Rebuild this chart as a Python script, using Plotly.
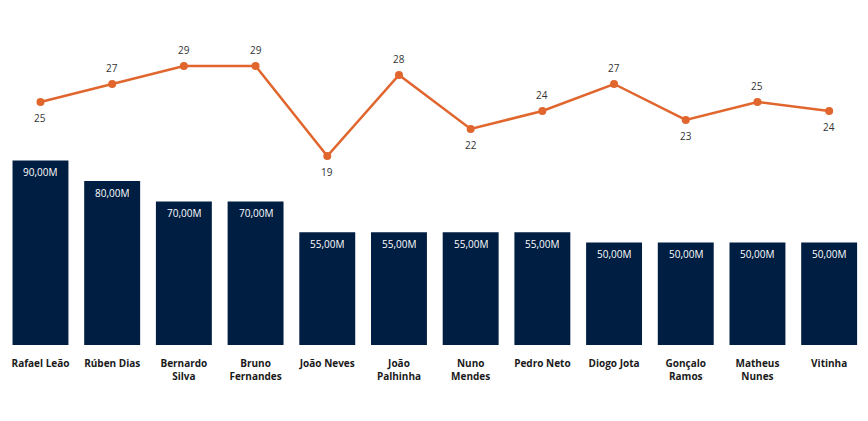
import plotly.graph_objects as go

players = ["Rafael Leão", "Rúben Dias", "Bernardo<br>Silva", "Bruno<br>Fernandes", "João Neves",
           "João<br>Palhinha", "Nuno<br>Mendes", "Pedro Neto", "Diogo Jota", "Gonçalo<br>Ramos",
           "Matheus<br>Nunes", "Vitinha"]
market_value_m = [90, 80, 70, 70, 55, 55, 55, 55, 50, 50, 50, 50]
ages = [25, 27, 29, 29, 19, 28, 22, 24, 27, 23, 25, 24]
age_label_above = [False, True, True, True, False, True, False, True, True, False, True, False]

bar_text = [f"{v:.2f}".replace(".", ",") + "M" for v in market_value_m]

fig = go.Figure()
fig.add_trace(go.Bar(
    x=players, y=market_value_m,
    marker=dict(color="#001E42", line=dict(width=0)), width=0.78, yaxis="y",
))
fig.add_trace(go.Scatter(
    x=players, y=ages, mode="lines+markers",
    line=dict(color="#E0662E", width=2.5), marker=dict(color="#E0662E", size=8),
    yaxis="y2", cliponaxis=False,
))
for p, v, t in zip(players, market_value_m, bar_text):
    fig.add_annotation(x=p, y=v, xref="x", yref="y", text=t, showarrow=False,
                       yanchor="middle", yshift=-12,
                       font=dict(color="white", size=10, family="Open Sans"))
for p, a, up in zip(players, ages, age_label_above):
    fig.add_annotation(x=p, y=a, xref="x", yref="y2", text=str(a), showarrow=False,
                       yshift=16 if up else -16,
                       font=dict(color="#333333", size=10, family="Open Sans"))

fig.update_layout(
    width=868, height=421,
    margin=dict(l=0, r=11, t=12, b=84, autoexpand=False),
    paper_bgcolor="white", plot_bgcolor="white",
    showlegend=False,
    xaxis=dict(range=[-0.453, 11.5], showgrid=False, showline=False, zeroline=False, ticks="",
               automargin=False, ticklabelstandoff=11,
               tickfont=dict(family="Open Sans", size=10, color="#1a1a1a", weight="bold"), tickangle=0),
    yaxis=dict(range=[0, 158.5], visible=False, showgrid=False, automargin=False),
    yaxis2=dict(range=[-2, 34.11], overlaying="y", visible=False, showgrid=False, automargin=False),
    font=dict(family="Open Sans"),
)

fig.write_html("out.html")
